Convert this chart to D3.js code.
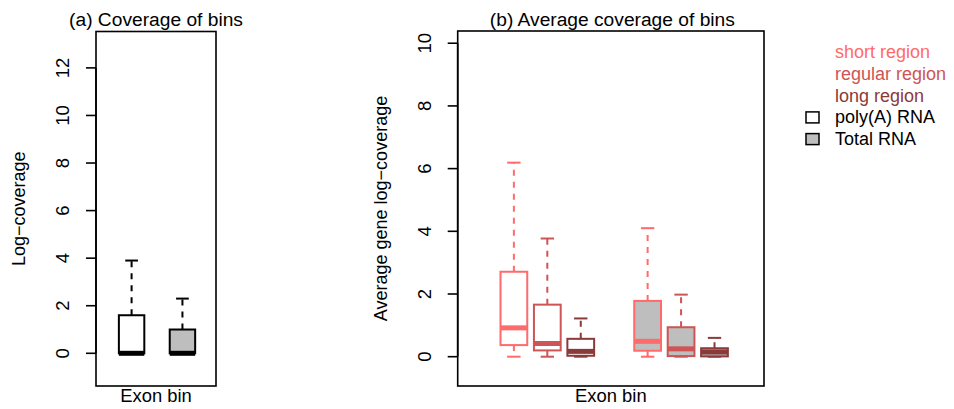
<!DOCTYPE html>
<html>
<head>
<meta charset="utf-8">
<script src="https://cdn.jsdelivr.net/npm/d3@7"></script>
<style>
  html, body { margin: 0; padding: 0; background: #fff; }
  svg { display: block; }
  text { font-family: "Liberation Sans", Arial, Helvetica, sans-serif; }
</style>
</head>
<body>
<svg id="chart" width="954" height="409"></svg>
<script>
// ---------- data ----------
const aCategories = ["poly(A) RNA", "Total RNA"];
const aPositions  = [1, 2];
const aLower  = [0, 0];
const aQ1     = [0, 0];
const aMedian = [0, 0];
const aQ3     = [1.6, 1.0];
const aUpper  = [3.9, 2.3];
const aTicks  = [0, 2, 4, 6, 8, 10, 12];

const bRegions = ["short region", "regular region", "long region"];
const bRegionColors = ["#FF6A6A", "#CD5555", "#8B3A3A"];
const bPolyAPositions = [1, 2, 3];
const bTotalPositions = [5, 6, 7];
const bPolyALower  = [0, 0, 0];
const bPolyAQ1     = [0.37, 0.20, 0.03];
const bPolyAMedian = [0.92, 0.42, 0.17];
const bPolyAQ3     = [2.71, 1.66, 0.57];
const bPolyAUpper  = [6.19, 3.77, 1.22];
const bTotalLower  = [0, 0, 0];
const bTotalQ1     = [0.19, 0.02, 0.01];
const bTotalMedian = [0.49, 0.25, 0.15];
const bTotalQ3     = [1.78, 0.94, 0.27];
const bTotalUpper  = [4.10, 1.98, 0.60];
const bTicks = [0, 2, 4, 6, 8, 10];

const legendTypes = ["poly(A) RNA", "Total RNA"];
const legendFills = ["#FFFFFF", "#BEBEBE"];

// ---------- drawing ----------
const svg = d3.select("#chart");

function boxes(g, x, y, items, boxwex, opts) {
  items.forEach(d => {
    const cx = x(d.pos);
    const half = (x(d.pos + boxwex / 2) - x(d.pos - boxwex / 2)) / 2;
    const cap = half / 2;
    const gg = g.append("g");
    // whiskers
    gg.append("line").attr("x1", cx).attr("x2", cx)
      .attr("y1", y(d.q3)).attr("y2", y(d.upper))
      .attr("stroke", d.color).attr("stroke-width", opts.lw)
      .attr("stroke-dasharray", opts.dash);
    gg.append("line").attr("x1", cx).attr("x2", cx)
      .attr("y1", y(d.q1)).attr("y2", y(d.lower))
      .attr("stroke", d.color).attr("stroke-width", opts.lw)
      .attr("stroke-dasharray", opts.dash);
    // staples
    [d.upper, d.lower].forEach(v => {
      gg.append("line").attr("x1", cx - cap).attr("x2", cx + cap)
        .attr("y1", y(v)).attr("y2", y(v))
        .attr("stroke", d.color).attr("stroke-width", opts.lw);
    });
    // box
    gg.append("rect")
      .attr("x", cx - half).attr("width", 2 * half)
      .attr("y", y(d.q3)).attr("height", Math.max(0, y(d.q1) - y(d.q3)))
      .attr("fill", d.fill).attr("stroke", d.color).attr("stroke-width", opts.lw);
    // median
    gg.append("line").attr("x1", cx - half).attr("x2", cx + half)
      .attr("y1", y(d.median)).attr("y2", y(d.median))
      .attr("stroke", d.color).attr("stroke-width", opts.medlw);
  });
}

function panel(cfg) {
  const g = svg.append("g");
  const x = d3.scaleLinear().domain(cfg.xDomain).range([cfg.left, cfg.right]);
  const y = d3.scaleLinear().domain(cfg.yDomain).range([cfg.bottom, cfg.top]);

  boxes(g, x, y, cfg.items, cfg.boxwex, cfg.style);

  // frame
  g.append("rect").attr("x", cfg.left).attr("y", cfg.top)
    .attr("width", cfg.right - cfg.left).attr("height", cfg.bottom - cfg.top)
    .attr("fill", "none").attr("stroke", "#000").attr("stroke-width", 1.6);

  // y axis (R style)
  const ticks = cfg.ticks;
  g.append("line").attr("x1", cfg.left).attr("x2", cfg.left)
    .attr("y1", y(ticks[0])).attr("y2", y(ticks[ticks.length - 1]))
    .attr("stroke", "#000").attr("stroke-width", 1.6);
  ticks.forEach(t => {
    g.append("line").attr("x1", cfg.left - 10).attr("x2", cfg.left)
      .attr("y1", y(t)).attr("y2", y(t))
      .attr("stroke", "#000").attr("stroke-width", 1.6);
    g.append("text")
      .attr("transform", `translate(${cfg.left - 27},${y(t)}) rotate(-90)`)
      .attr("text-anchor", "middle").attr("font-size", 18.5).attr("fill", "#000")
      .text(t);
  });

  const mid = (cfg.left + cfg.right) / 2;
  const vmid = (cfg.top + cfg.bottom) / 2;
  g.append("text").attr("x", mid + cfg.titleDx).attr("y", 25.5)
    .attr("text-anchor", "middle").attr("font-size", 19.2).attr("fill", "#000")
    .text(cfg.title);
  g.append("text").attr("x", mid).attr("y", 402)
    .attr("text-anchor", "middle").attr("font-size", 18.4).attr("fill", "#000")
    .text(cfg.xlab);
  g.append("text")
    .attr("transform", `translate(${cfg.ylabX},${vmid}) rotate(-90)`)
    .attr("text-anchor", "middle").attr("font-size", 18).attr("fill", "#000")
    .text(cfg.ylab);
}

// panel (a)
const aItems = aCategories.map((c, i) => ({
  pos: aPositions[i], lower: aLower[i], q1: aQ1[i], median: aMedian[i],
  q3: aQ3[i], upper: aUpper[i], color: "#000", fill: legendFills[i]
}));
panel({
  left: 96, right: 216, top: 31.5, bottom: 386,
  xDomain: [0.30, 2.66], yDomain: [-1.375, 13.53],
  ticks: aTicks, boxwex: 0.5, items: aItems,
  style: { lw: 2, medlw: 5, dash: "6,6" },
  title: "(a) Coverage of bins", titleDx: 0, xlab: "Exon bin", ylab: "Log\u2212coverage", ylabX: 25
});

// panel (b)
const bItems = [];
bRegions.forEach((r, i) => bItems.push({
  pos: bPolyAPositions[i], lower: bPolyALower[i], q1: bPolyAQ1[i], median: bPolyAMedian[i],
  q3: bPolyAQ3[i], upper: bPolyAUpper[i], color: bRegionColors[i], fill: legendFills[0]
}));
bRegions.forEach((r, i) => bItems.push({
  pos: bTotalPositions[i], lower: bTotalLower[i], q1: bTotalQ1[i], median: bTotalMedian[i],
  q3: bTotalQ3[i], upper: bTotalUpper[i], color: bRegionColors[i], fill: legendFills[1]
}));
panel({
  left: 457.7, right: 764, top: 31, bottom: 386,
  xDomain: [-0.68, 8.48], yDomain: [-0.935, 10.39],
  ticks: bTicks, boxwex: 0.8, items: bItems,
  style: { lw: 2, medlw: 5, dash: "6,6" },
  title: "(b) Average coverage of bins", titleDx: 1.5, xlab: "Exon bin", ylab: "Average gene log\u2212coverage", ylabX: 387
});

// legend
const leg = svg.append("g");
const legRows = bRegions.map((r, i) => ({ label: r, color: bRegionColors[i], fill: null }))
  .concat(legendTypes.map((t, i) => ({ label: t, color: "#000", fill: legendFills[i] })));
legRows.forEach((d, i) => {
  const base = 58.3 + i * 21.7;
  leg.append("text").attr("x", 835).attr("y", base)
    .attr("font-size", 18).attr("fill", d.color).text(d.label);
  if (d.fill) {
    leg.append("rect").attr("x", 806).attr("y", base - 11.5)
      .attr("width", 13).attr("height", 11)
      .attr("fill", d.fill).attr("stroke", "#000").attr("stroke-width", 1.5);
  }
});
</script>
</body>
</html>
